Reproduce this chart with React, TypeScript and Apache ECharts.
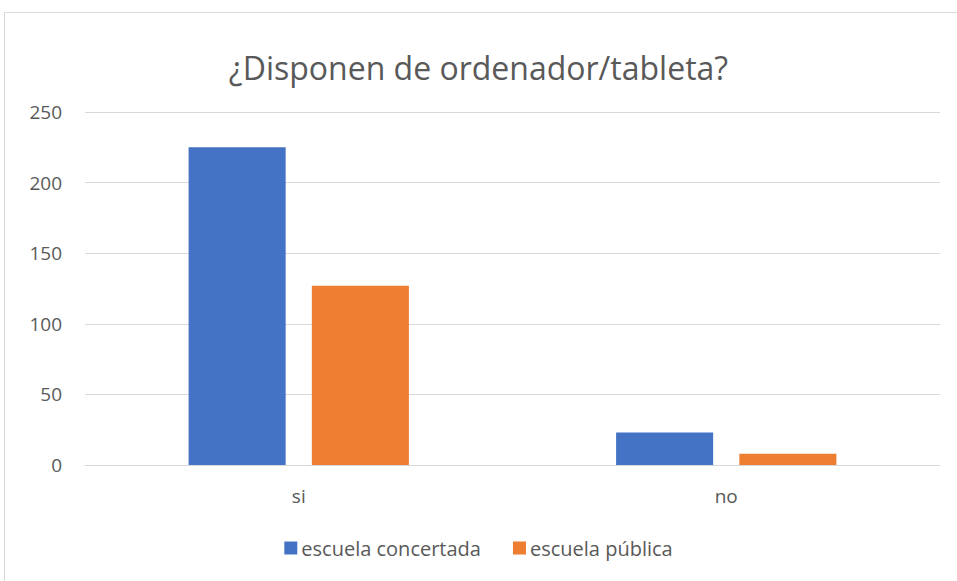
import React, { useEffect, useRef } from "react";
import * as echarts from "echarts";

const categories = ["si", "no"];
const concertada = [225, 23];
const publica = [127, 8];
const yTicks = [0, 50, 100, 150, 200, 250];
const seriesNames = ["escuela concertada", "escuela pública"];
const titleText = "¿Disponen de ordenador/tableta?";

export default function App() {
  const ref = useRef<HTMLDivElement>(null);
  useEffect(() => {
    if (!ref.current) return;
    const chart = echarts.init(ref.current, null, { renderer: "svg" });
    const font = "'Open Sans', 'Noto Sans', sans-serif";
    chart.setOption({
      animation: false,
      backgroundColor: "#ffffff",
      title: {
        text: titleText,
        left: "center",
        top: 46,
        textStyle: { fontFamily: font, fontSize: 32, fontWeight: "normal", color: "#595959" },
      },
      graphic: [
        {
          type: "rect",
          shape: { x: 4.5, y: 12.5, width: 1000, height: 700 },
          style: { fill: "none", stroke: "#d9d9d9", lineWidth: 1 },
          silent: true,
          z: -1,
        },
      ],
      legend: {
        data: seriesNames,
        bottom: 18,
        left: "center",
        itemWidth: 13,
        itemHeight: 13,
        itemGap: 32,
        icon: "rect",
        textStyle: { fontFamily: font, fontSize: 20, color: "#595959", padding: [0, 0, 0, -1] },
      },
      grid: { left: 85, right: 17, top: 112, bottom: 116, containLabel: false },
      xAxis: {
        type: "category",
        data: categories,
        axisLine: { lineStyle: { color: "#d9d9d9", width: 1 } },
        axisTick: { show: false },
        axisLabel: { fontFamily: font, fontSize: 19, color: "#595959", margin: 21 },
      },
      yAxis: {
        type: "value",
        min: yTicks[0],
        max: yTicks[yTicks.length - 1],
        interval: 50,
        axisLine: { show: false },
        axisTick: { show: false },
        splitLine: { lineStyle: { color: "#d9d9d9", width: 1 } },
        axisLabel: { fontFamily: font, fontSize: 19, color: "#595959", margin: 23 },
      },
      series: [
        {
          name: seriesNames[0],
          type: "bar",
          data: concertada,
          itemStyle: { color: "#4472c4" },
          barWidth: "22.7%",
          barGap: "27%",
        },
        {
          name: seriesNames[1],
          type: "bar",
          data: publica,
          itemStyle: { color: "#ed7d31" },
          barWidth: "22.7%",
          barGap: "27%",
        },
      ],
    });
    return () => chart.dispose();
  }, []);
  return (
    <div
      ref={ref}
      style={{ position: "fixed", left: 0, top: 0, width: 957, height: 581 }}
    />
  );
}
